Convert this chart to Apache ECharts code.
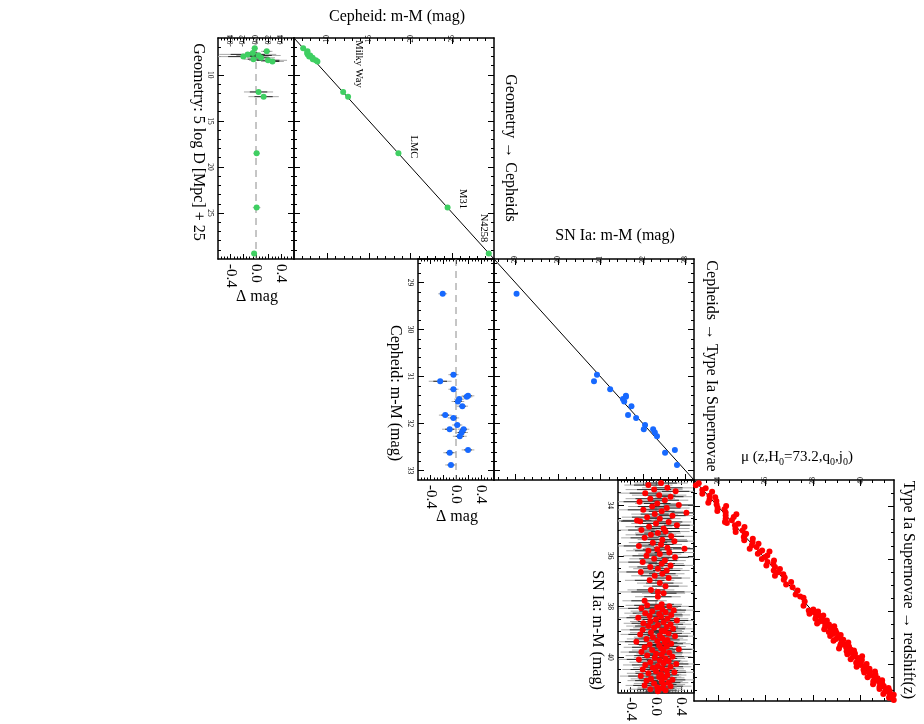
<!DOCTYPE html>
<html>
  <head>
    <meta charset="utf-8" />
    <title>Distance ladder</title>
    <script src="https://cdn.jsdelivr.net/npm/echarts@6/dist/echarts.min.js"></script>
    <style>
      * {
        margin: 0;
        padding: 0;
        box-sizing: border-box;
      }
      body {
        background: #fff;
      }
    </style>
  </head>
  <body>
    <div id="main" style="width: 924px; height: 724px"></div>
    <script type="text/javascript">
      // geometric anchors: [5 log D + 25, delta mag, error]
      const geoRows = [
        [7.12, -0.02, 0.05], [7.45, 0.17, 0.09], [7.62, -0.05, 0.12], [7.78, -0.13, 0.45],
        [7.9, 0.04, 0.35], [8.02, -0.2, 0.4], [8.15, 0.08, 0.22], [8.3, -0.04, 0.15],
        [8.42, 0.19, 0.3], [8.55, 0.26, 0.18], [11.86, 0.04, 0.23], [12.37, 0.12, 0.24],
        [18.52, 0.01, 0.05], [24.42, 0.01, 0.06], [29.4, -0.03, 0.04],
      ];
      const anchorNames = ["Milky Way", "LMC", "M31", "N4258"];

      // cepheid hosts: [Cepheid m-M, delta mag, error]
      const cephRows = [
        [29.24, -0.21, 0.07], [30.96, -0.04, 0.08], [31.1, -0.25, 0.18], [31.27, -0.04, 0.08],
        [31.41, 0.19, 0.1], [31.43, 0.17, 0.09], [31.48, 0.05, 0.08], [31.53, 0.03, 0.1],
        [31.63, 0.1, 0.09], [31.82, -0.17, 0.1], [31.88, -0.04, 0.09], [32.03, 0.02, 0.08],
        [32.12, -0.1, 0.12], [32.12, 0.12, 0.09], [32.19, 0.09, 0.1], [32.27, 0.06, 0.11],
        [32.56, 0.19, 0.1], [32.62, -0.1, 0.1], [32.88, -0.08, 0.09],
      ];

      // Hubble-flow SNe Ia: [SN m-M, delta mag, error]
      const snRows = [
        [33.12, 0.08, 0.42], [33.2, -0.12, 0.38], [33.31, 0.18, 0.4], [33.38, -0.03, 0.45],
        [33.45, 0.31, 0.36], [33.52, -0.17, 0.41], [33.6, 0.05, 0.43], [33.66, 0.23, 0.34],
        [33.74, -0.09, 0.39], [33.8, 0.14, 0.37], [33.86, -0.26, 0.42], [33.93, 0.02, 0.35],
        [33.99, 0.36, 0.4], [34.05, -0.06, 0.38], [34.11, 0.17, 0.36], [34.18, -0.2, 0.41],
        [34.24, 0.09, 0.34], [34.3, 0.48, 0.39], [34.35, -0.02, 0.37], [34.41, 0.26, 0.35],
        [34.47, -0.14, 0.4], [34.53, 0.06, 0.33], [34.6, -0.3, 0.38], [34.63, -0.25, 0.5],
        [34.66, 0.2, 0.36], [34.72, 0.0, 0.39], [34.79, 0.33, 0.34], [34.85, -0.11, 0.37],
        [34.92, 0.12, 0.41], [34.98, -0.23, 0.35], [35.04, 0.15, 0.38], [35.1, 0.03, 0.36],
        [35.17, -0.08, 0.4], [35.23, 0.24, 0.34], [35.29, -0.18, 0.37], [35.36, 0.1, 0.39],
        [35.42, 0.29, 0.35], [35.48, -0.05, 0.38], [35.55, 0.08, 0.33], [35.61, -0.27, 0.4],
        [35.68, 0.18, 0.36], [35.72, 0.45, 0.3], [35.74, 0.02, 0.38], [35.8, -0.12, 0.35],
        [35.87, 0.21, 0.39], [35.93, 0.06, 0.34], [36.0, -0.15, 0.37], [36.06, 0.3, 0.36],
        [36.12, -0.03, 0.39], [36.19, 0.14, 0.33], [36.25, -0.21, 0.38], [36.31, 0.09, 0.35],
        [36.38, 0.23, 0.37], [36.44, -0.09, 0.34], [36.51, 0.03, 0.39], [36.58, 0.17, 0.36],
        [36.64, -0.24, 0.38], [36.71, 0.1, 0.35], [36.79, -0.02, 0.37], [36.88, 0.2, 0.34],
        [36.97, -0.1, 0.39], [37.08, 0.06, 0.36], [37.2, 0.15, 0.35], [37.35, -0.08, 0.37],
        [37.43, 0.03, 0.7], [37.48, 0.12, 0.34], [37.62, 0.03, 0.36], [37.78, -0.18, 0.35],
        [37.92, 0.09, 0.32], [37.96, -0.14, 0.34], [38.0, 0.21, 0.31], [38.04, 0.02, 0.33],
        [38.08, -0.23, 0.35], [38.12, 0.1, 0.3], [38.15, 0.28, 0.32], [38.19, -0.06, 0.34],
        [38.23, 0.15, 0.31], [38.27, -0.17, 0.33], [38.3, 0.05, 0.36], [38.34, 0.24, 0.3],
        [38.38, -0.1, 0.32], [38.41, 0.08, 0.34], [38.45, -0.28, 0.31], [38.49, 0.18, 0.33],
        [38.52, 0.0, 0.35], [38.56, 0.33, 0.3], [38.6, -0.09, 0.32], [38.63, 0.12, 0.34],
        [38.67, -0.2, 0.31], [38.71, 0.23, 0.33], [38.74, 0.03, 0.32], [38.78, -0.12, 0.35],
        [38.82, 0.17, 0.3], [38.85, -0.03, 0.33], [38.89, 0.27, 0.31], [38.93, -0.21, 0.34],
        [38.96, 0.09, 0.32], [39.0, 0.14, 0.3], [39.04, -0.08, 0.33], [39.07, 0.2, 0.35],
        [39.11, -0.25, 0.31], [39.15, 0.06, 0.32], [39.18, 0.3, 0.34], [39.22, -0.05, 0.3],
        [39.26, 0.1, 0.33], [39.29, -0.15, 0.31], [39.33, 0.18, 0.32], [39.37, 0.02, 0.35],
        [39.4, -0.31, 0.3], [39.44, 0.14, 0.33], [39.48, 0.24, 0.31], [39.51, -0.1, 0.34],
        [39.55, 0.05, 0.32], [39.59, 0.17, 0.3], [39.62, -0.18, 0.33], [39.66, 0.08, 0.31],
        [39.7, 0.36, 0.34], [39.73, -0.06, 0.32], [39.77, 0.12, 0.3], [39.81, -0.23, 0.33],
        [39.84, 0.21, 0.35], [39.88, 0.0, 0.31], [39.92, 0.09, 0.32], [39.95, -0.14, 0.34],
        [39.99, 0.26, 0.3], [40.03, -0.02, 0.33], [40.06, 0.15, 0.31], [40.1, -0.27, 0.32],
        [40.14, 0.06, 0.34], [40.17, 0.2, 0.3], [40.21, -0.09, 0.33], [40.25, 0.12, 0.31],
        [40.28, 0.32, 0.32], [40.32, -0.17, 0.35], [40.36, 0.03, 0.3], [40.39, 0.23, 0.33],
        [40.43, -0.05, 0.31], [40.47, 0.1, 0.34], [40.5, -0.21, 0.32], [40.54, 0.17, 0.3],
        [40.58, 0.0, 0.33], [40.61, 0.29, 0.31], [40.65, -0.12, 0.34], [40.69, 0.08, 0.32],
        [40.72, 0.18, 0.3], [40.76, -0.24, 0.33], [40.8, 0.05, 0.35], [40.83, 0.14, 0.31],
        [40.87, -0.08, 0.32], [40.91, 0.26, 0.34], [40.94, -0.15, 0.3], [40.98, 0.09, 0.33],
        [41.02, 0.2, 0.31], [41.05, -0.03, 0.32], [41.09, 0.12, 0.34], [41.13, -0.18, 0.3],
        [41.16, 0.23, 0.33], [41.2, 0.02, 0.31], [41.24, 0.1, 0.32], [41.28, -0.09, 0.34],
        [41.32, 0.15, 0.3], [41.36, 0.03, 0.33],
      ];

      // tick labels
      const geoTicks = [10, 15, 20, 25];
      const cephTicks = [29, 30, 31, 32, 33];
      const snTicks = [34, 36, 38, 40];
      const resTopTicks = [-0.4, -0.2, 0, 0.2, 0.4];
      const resBottomTicks = [-0.4, 0, 0.4];

      const FONT = '"Liberation Serif", "DejaVu Serif", serif';
      const RES_MIN = -0.6, RES_MAX = 0.6;

      const panels = [
        { left: 294, top: 38, min: 6, max: 30, major: geoTicks, step: 1, rows: geoRows, color: "#3fcf62", size: 6, resTop: true },
        { left: 494, top: 259, min: 28.5, max: 33.2, major: cephTicks, step: 0.2, rows: cephRows, color: "#1769ff", size: 6 },
        { left: 694, top: 480, min: 33, max: 41.4, major: snTicks, step: 0.5, rows: snRows, color: "#ff0000", size: 6 },
      ];
      const W = 200, H = 221, RW = 76;

      function minorTicks(min, max, step, major) {
        const out = [];
        for (let i = Math.ceil(min / step - 1e-6); i * step <= max + 1e-9; i++) {
          const v = Math.round(i * step * 1000) / 1000;
          if (v > min && v < max && !major.some((m) => Math.abs(m - v) < 1e-6)) out.push(v);
        }
        return out;
      }

      const grid = [], xAxis = [], yAxis = [], series = [];

      // one side of a box: line + major ticks (+labels), then a twin axis for minor ticks
      function addSide(list, gridIndex, pos, min, max, inverse, major, minor, len, label) {
        const base = { type: "value", gridIndex, position: pos, min, max, inverse, splitLine: { show: false } };
        list.push(Object.assign({}, base, {
          axisLine: { show: true, onZero: false, lineStyle: { color: "#000", width: 1.5 } },
          axisTick: { show: true, inside: true, length: len, customValues: major, lineStyle: { color: "#000", width: 1 } },
          axisLabel: label || { show: false },
        }));
        const idx = list.length - 1;
        list.push(Object.assign({}, base, {
          axisLine: { show: false, onZero: false },
          axisTick: { show: true, inside: true, length: len / 2, customValues: minor, lineStyle: { color: "#000", width: 1 } },
          axisLabel: { show: false },
        }));
        return idx;
      }

      function tickLabel(values, pos, size, fmt) {
        const o = { show: true, customValues: values, rotate: -90, fontFamily: FONT, fontSize: size, color: "#000", formatter: fmt };
        if (pos === "top") Object.assign(o, { margin: 3, align: "right", verticalAlign: "middle" });
        if (pos === "bottom") Object.assign(o, { margin: 5, align: "left", verticalAlign: "middle" });
        if (pos === "left") Object.assign(o, { margin: 4, align: "center", verticalAlign: "top" });
        return o;
      }
      const fmtMag = (v) => String(v);
      const fmtRes = (v) => v.toFixed(1);

      function errBar(params, api) {
        const d = api.value(0), y = api.value(1), e = api.value(2);
        const cs = params.coordSys;
        const clamp = (v) => Math.max(cs.x, Math.min(cs.x + cs.width, v));
        const a = api.coord([d - e, y]), b = api.coord([d + e, y]);
        const a2 = api.coord([d - e * 0.6, y]), b2 = api.coord([d + e * 0.6, y]);
        return {
          type: "group",
          children: [
            { type: "line", shape: { x1: clamp(a[0]), y1: a[1], x2: clamp(b[0]), y2: b[1] }, style: { stroke: "#a9a9a9", lineWidth: 1 } },
            { type: "line", shape: { x1: clamp(a2[0]), y1: a2[1], x2: clamp(b2[0]), y2: b2[1] }, style: { stroke: "#2a2a2a", lineWidth: 1 } },
          ],
        };
      }

      const resMajor = resTopTicks;
      const resMinor = minorTicks(RES_MIN, RES_MAX, 0.05, resMajor);

      panels.forEach((p, i) => {
        const gm = grid.length;
        grid.push({ left: p.left, top: p.top, width: W, height: H, show: false });
        const gr = grid.length;
        grid.push({ left: p.left - RW, top: p.top, width: RW, height: H, show: false });
        const minor = minorTicks(p.min, p.max, p.step, p.major);

        // main panel
        const mx = addSide(xAxis, gm, "bottom", p.min, p.max, false, p.major, minor, 6);
        addSide(xAxis, gm, "top", p.min, p.max, false, p.major, minor, 6, tickLabel(p.major, "top", 7.5, fmtMag));
        const my = addSide(yAxis, gm, "left", p.min, p.max, true, p.major, minor, 6);
        addSide(yAxis, gm, "right", p.min, p.max, true, p.major, minor, 6);

        // residual panel
        const rx = addSide(xAxis, gr, "bottom", RES_MIN, RES_MAX, false, resMajor, resMinor, 5, tickLabel(resBottomTicks, "bottom", 15, fmtRes));
        addSide(xAxis, gr, "top", RES_MIN, RES_MAX, false, resMajor, resMinor, 5, p.resTop ? tickLabel(resTopTicks, "top", 7.5, fmtRes) : null);
        const ry = addSide(yAxis, gr, "left", p.min, p.max, true, p.major, minor, 6, tickLabel(p.major, "left", 7.5, fmtMag));
        addSide(yAxis, gr, "right", p.min, p.max, true, p.major, minor, 6);

        series.push({
          type: "line", xAxisIndex: mx, yAxisIndex: my, data: [[p.min, p.min], [p.max, p.max]],
          symbol: "none", lineStyle: { color: "#000", width: 1 }, silent: true, z: 2,
        });
        series.push({
          type: "scatter", xAxisIndex: mx, yAxisIndex: my, symbolSize: p.size,
          itemStyle: { color: p.color, opacity: 1 }, z: 3,
          data: p.rows.map((r) => [r[0] + r[1], r[0]]),
        });
        series.push({
          type: "line", xAxisIndex: rx, yAxisIndex: ry, data: [[0, p.min], [0, p.max]],
          symbol: "none", lineStyle: { color: "#8c8c8c", width: 1, type: [7, 5] }, silent: true, z: 1,
        });
        series.push({
          type: "custom", xAxisIndex: rx, yAxisIndex: ry, renderItem: errBar, encode: { x: 0, y: 1 }, z: 2,
          data: p.rows.map((r) => [r[1], r[0], r[2]]),
        });
        series.push({
          type: "scatter", xAxisIndex: rx, yAxisIndex: ry, symbolSize: p.size,
          itemStyle: { color: p.color, opacity: 1 }, z: 3,
          data: p.rows.map((r) => [r[1], r[0]]),
        });
      });

      function txt(text, x, y, size, rotated, rich) {
        return {
          type: "text", x, y, rotation: rotated ? -Math.PI / 2 : 0, z: 10,
          style: {
            text, fill: "#000", fontFamily: FONT, fontSize: size,
            align: "center", verticalAlign: "middle", textAlign: "center", textVerticalAlign: "middle",
            rich,
          },
        };
      }
      const sub = { sub: { fontSize: 10, fontFamily: FONT, verticalAlign: "bottom", lineHeight: 20 } };

      const graphic = [
        txt("Cepheid: m-M (mag)", 397, 17, 16),
        txt("SN Ia: m-M (mag)", 615, 236, 16),
        txt("μ (z,H{sub|0}=73.2,q{sub|0},j{sub|0})", 797, 457, 15, false, sub),
        txt("Geometry → Cepheids", 510, 148, 16, true),
        txt("Cepheids → Type Ia Supernovae", 711, 366, 16, true),
        txt("Type Ia Supernovae → redshift(z)", 908, 590, 16, true),
        txt("Geometry: 5 log D [Mpc] + 25", 198, 142, 16, true),
        txt("Cepheid: m-M (mag)", 395, 393, 16, true),
        txt("SN Ia: m-M (mag)", 597, 630, 16, true),
        txt("Δ mag", 257, 297, 16),
        txt("Δ mag", 457, 517, 16),
        txt("Δ mag", 657, 737, 16),
        txt(anchorNames[0], 359, 64, 10.5, true),
        txt(anchorNames[1], 414, 147, 10.5, true),
        txt(anchorNames[2], 463, 199, 10.5, true),
        txt(anchorNames[3], 484, 228, 10.5, true),
      ];

      var myChart = echarts.init(document.getElementById("main"));
      myChart.setOption({
        animation: false,
        backgroundColor: "#fff",
        grid,
        xAxis,
        yAxis,
        series,
        graphic,
      });
    </script>
  </body>
</html>
